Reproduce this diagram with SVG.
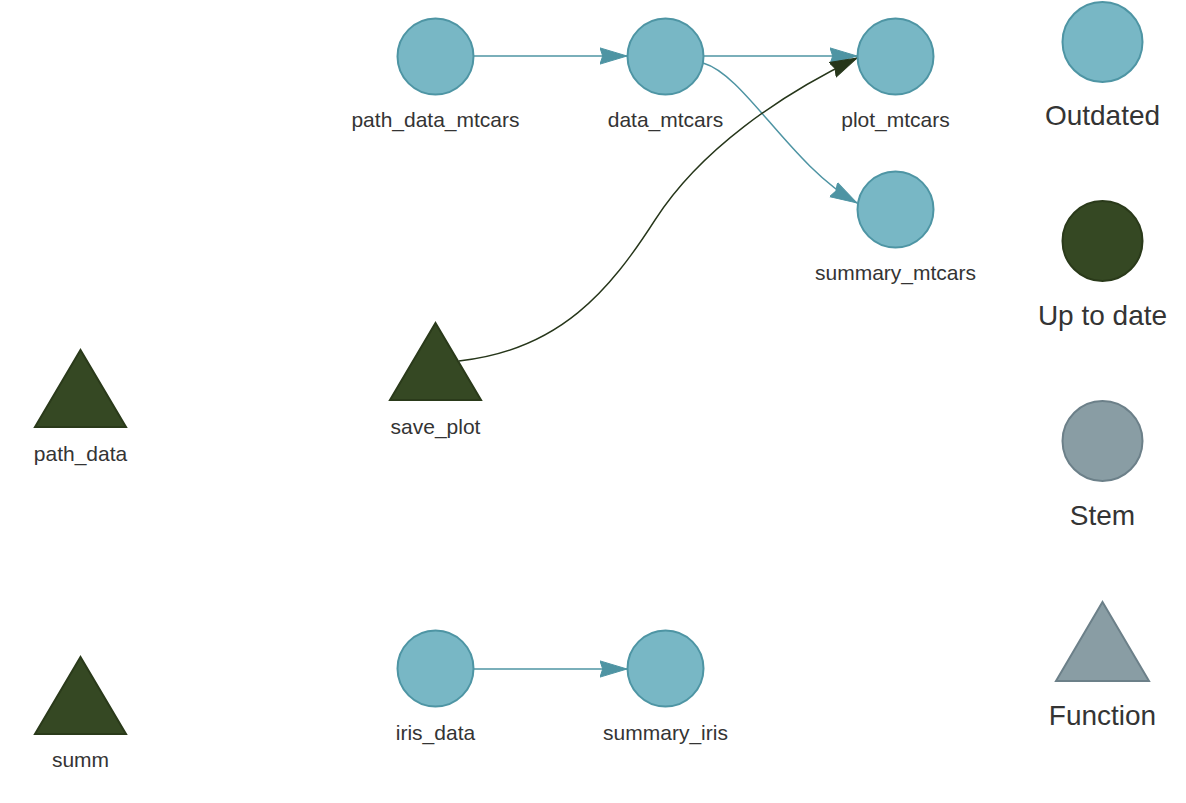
<svg xmlns="http://www.w3.org/2000/svg" width="1186" height="803" viewBox="0 0 1186 803">
<style>
.bg{fill:#ffffff}
.outdated{fill:#78B7C5;stroke:#4E95A4;stroke-width:2}
.uptodate{fill:#354823;stroke:#2A3A1A;stroke-width:2}
.stem{fill:#899DA4;stroke:#6C8089;stroke-width:2}
.lbl{font-family:"Liberation Sans",Arial,sans-serif;font-size:21px;fill:#343434;text-anchor:middle}
.leg{font-family:"Liberation Sans",Arial,sans-serif;font-size:28px;fill:#343434;text-anchor:middle}
.e-teal{fill:none;stroke:#4E94A3;stroke-width:1.5}
.e-dark{fill:none;stroke:#26361A;stroke-width:1.4}
</style>
<defs>
<marker id="arrTeal" markerUnits="userSpaceOnUse" markerWidth="30" markerHeight="20" refX="27" refY="8.5" orient="auto" viewBox="0 0 30 17">
<path d="M27,8.5 L0,0.4 L2.7,8.5 L0,16.6 Z" fill="#4E94A3" stroke="#4E94A3" stroke-width="1"/>
</marker>
<marker id="arrDark" markerUnits="userSpaceOnUse" markerWidth="30" markerHeight="20" refX="27" refY="8.5" orient="auto" viewBox="0 0 30 17">
<path d="M27,8.5 L0,0.4 L2.7,8.5 L0,16.6 Z" fill="#26361A" stroke="#26361A" stroke-width="1"/>
</marker>
</defs>
<rect class="bg" x="0" y="0" width="1186" height="803"/>
<g id="connectors">
<path class="e-teal" d="M474,56 L627,56" marker-end="url(#arrTeal)"/>
<path class="e-teal" d="M704,56 L857,56" marker-end="url(#arrTeal)"/>
<path class="e-teal" d="M703,63 C745,75 790,165 857,203" marker-end="url(#arrTeal)"/>
<path class="e-teal" d="M474,669 L627,669" marker-end="url(#arrTeal)"/>
<path class="e-dark" d="M459,361 C560,350 610,290 655,220 C700,150 780,95 857,58" marker-end="url(#arrDark)"/>
</g>
<g id="node-path_data_mtcars">
<circle class="outdated" cx="435.5" cy="56.5" r="38"/>
<text class="lbl" x="435.5" y="127">path_data_mtcars</text>
</g>
<g id="node-data_mtcars">
<circle class="outdated" cx="665.5" cy="56.5" r="38"/>
<text class="lbl" x="665.5" y="127">data_mtcars</text>
</g>
<g id="node-plot_mtcars">
<circle class="outdated" cx="895.5" cy="56.5" r="38"/>
<text class="lbl" x="895.5" y="127">plot_mtcars</text>
</g>
<g id="node-summary_mtcars">
<circle class="outdated" cx="895.5" cy="209.5" r="38"/>
<text class="lbl" x="895.5" y="280">summary_mtcars</text>
</g>
<g id="node-save_plot">
<polygon class="uptodate" points="435.5,323 481,400 390,400"/>
<text class="lbl" x="435.5" y="434">save_plot</text>
</g>
<g id="node-path_data">
<polygon class="uptodate" points="80.5,350 126,427 35,427"/>
<text class="lbl" x="80.5" y="461">path_data</text>
</g>
<g id="node-summ">
<polygon class="uptodate" points="80.5,657 126,734 35,734"/>
<text class="lbl" x="80.5" y="767">summ</text>
</g>
<g id="node-iris_data">
<circle class="outdated" cx="435.5" cy="668.5" r="38"/>
<text class="lbl" x="435.5" y="740">iris_data</text>
</g>
<g id="node-summary_iris">
<circle class="outdated" cx="665.5" cy="668.5" r="38"/>
<text class="lbl" x="665.5" y="740">summary_iris</text>
</g>
<g id="legend-outdated">
<circle class="outdated" cx="1102.5" cy="42" r="40"/>
<text class="leg" x="1102.5" y="125">Outdated</text>
</g>
<g id="legend-uptodate">
<circle class="uptodate" cx="1102.5" cy="241" r="40"/>
<text class="leg" x="1102.5" y="325">Up to date</text>
</g>
<g id="legend-stem">
<circle class="stem" cx="1102.5" cy="441" r="40"/>
<text class="leg" x="1102.5" y="525">Stem</text>
</g>
<g id="legend-function">
<polygon class="stem" points="1102.5,602 1149,681 1056,681"/>
<text class="leg" x="1102.5" y="725">Function</text>
</g>
</svg>
